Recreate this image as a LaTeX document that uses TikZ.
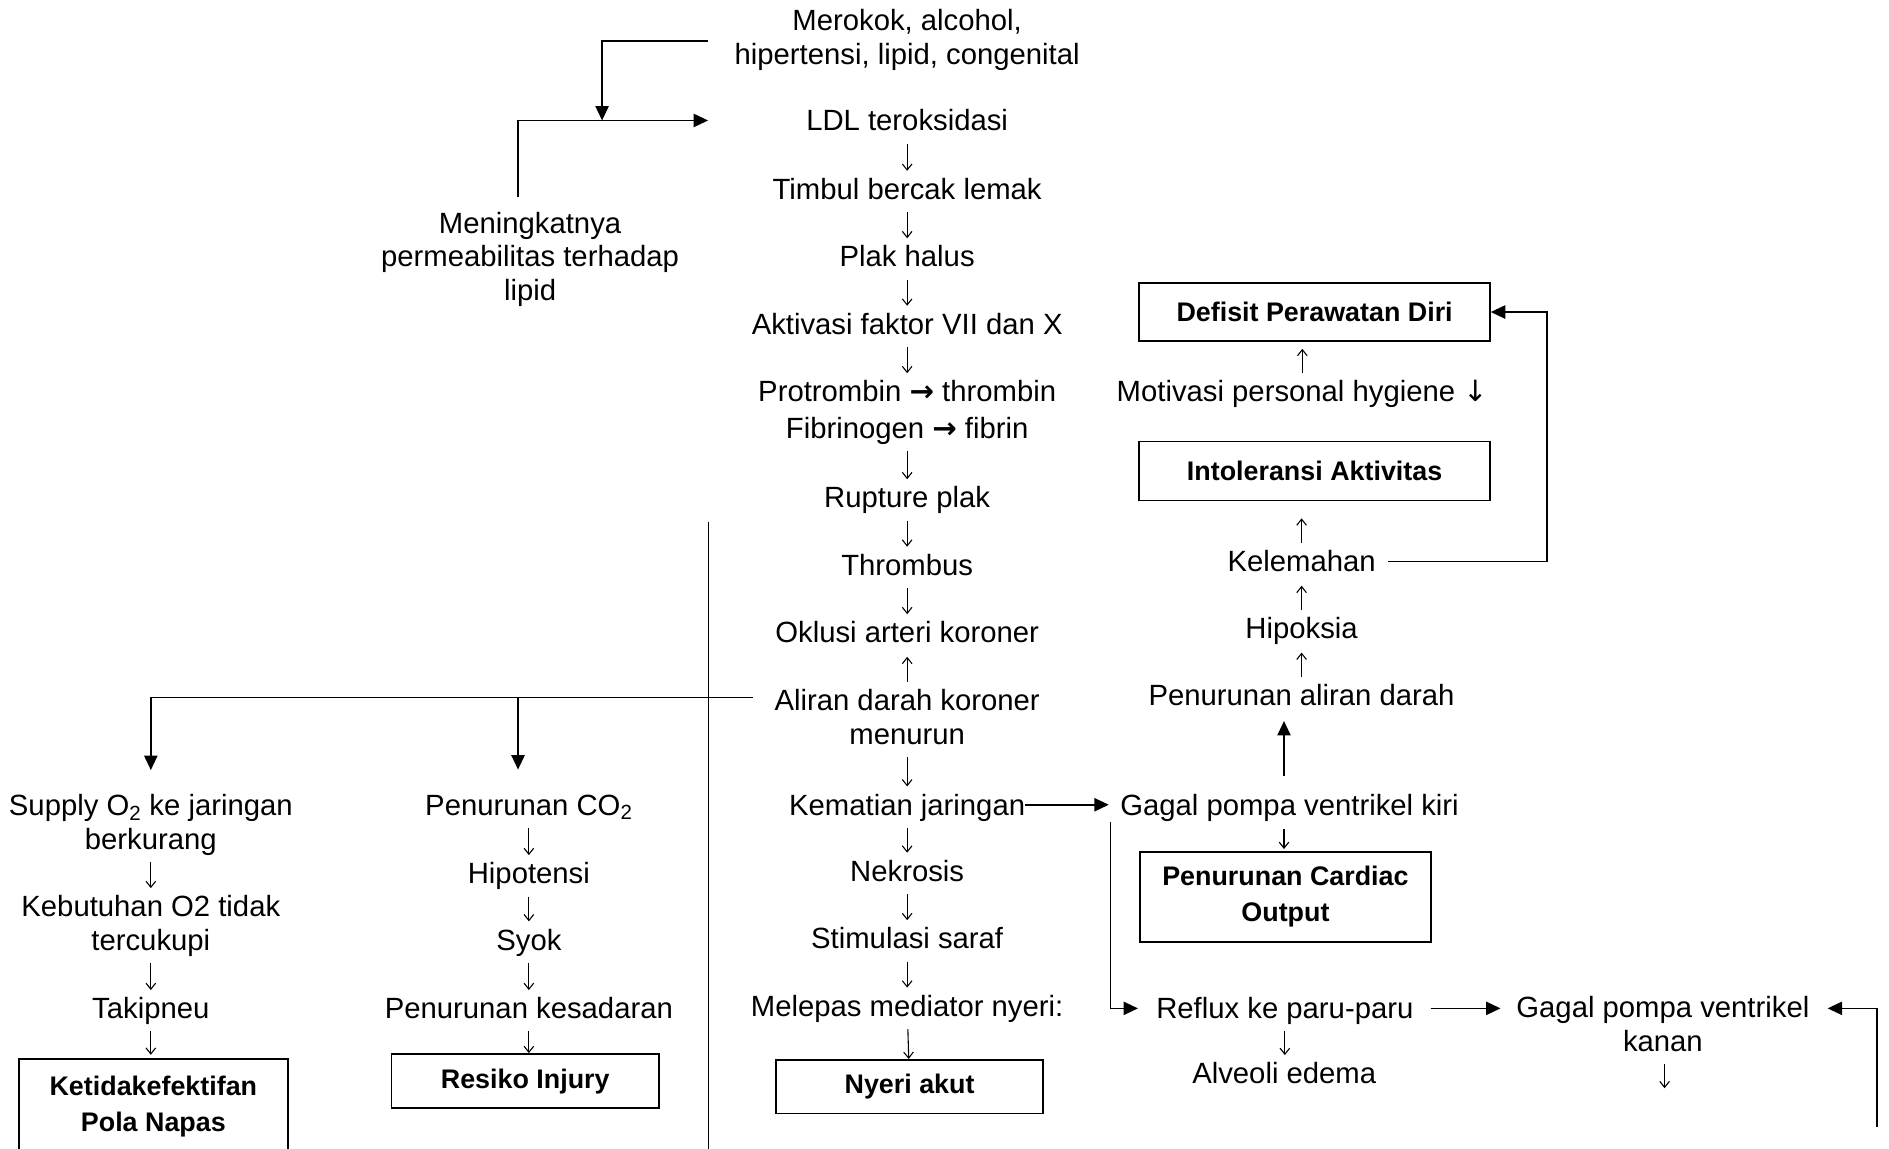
\documentclass[tikz,border=0pt]{standalone}
\usepackage{fontspec}
\setmainfont{Liberation Sans}
\newfontfamily\arrowfont{DejaVu Sans}
\usetikzlibrary{arrows.meta}
\newcommand\nrmfs{\fontsize{24.3pt}{28pt}\selectfont}
\newcommand\bxfs{\fontsize{22.3pt}{30pt}\selectfont\bfseries}
\newcommand\mystrut{\rule[-5.4pt]{0pt}{28pt}}
\begin{document}
\begin{tikzpicture}[x=1pt,y=-1pt,
  txt/.style={inner sep=0pt, font=\nrmfs, text height=22.6pt, text depth=5.4pt},
  mtxt/.style={inner sep=0pt, font=\nrmfs, align=center},
  dxbox/.style={draw, line width=1.5pt, inner sep=0pt, font=\bxfs, align=center},
  flow/.style={line width=0.9pt, -{Straight Barb[length=5pt,width=8pt]}},
  dn/.style={flow, shorten <=5pt, shorten >=1pt},
  upa/.style={flow, shorten <=1pt, shorten >=6pt},
  conn/.style={line width=1.4pt},
  tri/.style={-{Triangle[length=12pt,width=11pt]}},
]
\useasboundingbox (0,0) rectangle (1568,953);
\clip (0,0) rectangle (1568,953);

% main column
\node[mtxt] (merokok) at (753,31) {\mystrut Merokok, alcohol,\\\mystrut hipertensi, lipid, congenital};
\node[txt] (ldl) at (753,100) {LDL teroksidasi};
\node[txt] (timbul) at (753,157) {Timbul bercak lemak};
\node[txt] (plak) at (753,213) {Plak halus};
\node[txt] (aktivasi) at (753,269) {Aktivasi faktor VII dan X};
\node[mtxt, font=\fontsize{24.3pt}{30pt}\selectfont] (protrombin) at (753,340) {\mystrut Protrombin {\arrowfont\bfseries →} thrombin\\\mystrut Fibrinogen {\arrowfont\bfseries →} fibrin};
\node[txt] (rupture) at (753,413) {Rupture plak};
\node[txt] (thrombus) at (753,469) {Thrombus};
\node[txt] (oklusi) at (753,525) {Oklusi arteri koroner};
\node[mtxt] (aliran) at (753,595) {\mystrut Aliran darah koroner\\\mystrut menurun};
\node[txt] (kematian) at (753,668) {Kematian jaringan};
\node[txt] (nekrosis) at (753,723) {Nekrosis};
\node[txt] (stimulasi) at (753,779) {Stimulasi saraf};
\node[txt] (melepas) at (753,835) {Melepas mediator nyeri:};
\node[dxbox, minimum width=222pt, minimum height=44.5pt] (nyeri) at (755,902) {Nyeri akut};

% left top
\node[mtxt] (mening) at (440,213) {\mystrut Meningkatnya\\\mystrut permeabilitas terhadap\\\mystrut lipid};

% right column
\node[dxbox, minimum width=291pt, minimum height=47.6pt] (defisit) at (1091.2,259) {Defisit Perawatan Diri};
\node[txt] (motivasi) at (1081,325) {Motivasi personal hygiene {\arrowfont ↓}};
\node[dxbox, minimum width=291pt, minimum height=49pt] (intol) at (1091.2,391) {Intoleransi Aktivitas};
\node[txt] (kelemahan) at (1080.4,466) {Kelemahan};
\node[txt] (hipoksia) at (1080.4,521.5) {Hipoksia};
\node[txt] (paliran) at (1080.4,577) {Penurunan aliran darah};
\node[txt] (gagalkiri) at (1070.4,668) {Gagal pompa ventrikel kiri};
\node[dxbox, minimum width=242pt, minimum height=75pt] (pco) at (1067,744.5) {Penurunan Cardiac\\Output};
\node[txt] (reflux) at (1066.5,837) {Reflux ke paru-paru};
\node[txt] (alveoli) at (1066,891) {Alveoli edema};
\node[mtxt] (gagalkanan) at (1380.3,850) {\mystrut Gagal pompa ventrikel\\\mystrut kanan};

% left bottom
\node[mtxt] (supply) at (125.2,682.4) {\mystrut Supply O\textsubscript{2} ke jaringan\\\mystrut berkurang};
\node[mtxt] (kebutuhan) at (125.2,766.4) {\mystrut Kebutuhan O2 tidak\\\mystrut tercukupi};
\node[txt] (takipneu) at (125.2,837) {Takipneu};
\node[dxbox, minimum width=223.4pt, minimum height=78pt] (ketidak) at (127.3,918.3) {Ketidakefektifan\\Pola Napas};
\node[txt] (penco) at (439,668) {Penurunan CO\textsubscript{2}};
\node[txt] (hipotensi) at (439,725) {Hipotensi};
\node[txt] (syok) at (439,780) {Syok};
\node[txt] (kesadaran) at (439,837) {Penurunan kesadaran};
\node[dxbox, minimum width=222pt, minimum height=45pt] (resiko) at (436,897.4) {Resiko Injury};

% main column small arrows
\draw[dn] (ldl) -- (timbul);
\draw[dn] (timbul) -- (plak);
\draw[dn] (plak) -- (aktivasi);
\draw[dn] (aktivasi) -- (protrombin);
\draw[dn] (protrombin) -- (rupture);
\draw[dn] (rupture) -- (thrombus);
\draw[dn] (thrombus) -- (oklusi);
\draw[upa] (aliran) -- (oklusi);
\draw[dn] (aliran) -- (kematian);
\draw[dn] (kematian) -- (nekrosis);
\draw[dn] (nekrosis) -- (stimulasi);
\draw[dn] (stimulasi) -- (melepas);
\draw[dn, shorten >=0pt] (melepas) -- (nyeri);

% left bottom small arrows
\draw[dn] (supply) -- (kebutuhan);
\draw[dn] (kebutuhan) -- (takipneu);
\draw[dn, shorten >=3pt] (takipneu) -- (ketidak.north -| takipneu);
\draw[dn] (penco) -- (hipotensi);
\draw[dn] (hipotensi) -- (syok);
\draw[dn] (syok) -- (kesadaran);
\draw[dn, shorten >=0pt] (kesadaran) -- (kesadaran |- resiko.north);

% right small arrows
\draw[upa] (motivasi.north) -- (motivasi.north |- defisit.south);
\draw[upa, shorten >=14pt] (kelemahan) -- (kelemahan |- intol.south);
\draw[upa] (hipoksia) -- (kelemahan);
\draw[upa] (paliran) -- (hipoksia);
\coordinate (gk2) at ([xshift=-4.6pt]gagalkiri.south);
\draw[flow, shorten <=6pt, shorten >=1.5pt] (gk2) -- (gk2 |- pco.north);
\draw[dn] (reflux.south) -- (reflux.south |- alveoli.north);
\coordinate (kd) at (1381.7,903.3);
\draw[flow, shorten <=5pt] (gagalkanan.south -| kd) -- (kd);

% thick connectors, top left
\coordinate (m0) at ([xshift=-22pt,yshift=-3pt]merokok.west);
\path (ldl.west) ++(-169.3,0) coordinate (j);
\draw[conn,tri] (m0) -| (j);
\coordinate (mn) at ([xshift=-10pt,yshift=7pt]mening.north);
\draw[conn,tri,shorten >=81.3pt] (mn) |- (ldl.west);

% divider
\coordinate (vt) at (588,433);
\coordinate (vb) at (588,960);
\draw[line width=1.1pt] (vt) -- (vb);

% branches from Aliran
\coordinate (a0) at ([xshift=-18pt,yshift=16pt]aliran.west);
\draw[conn,tri,shorten >=15pt] (a0) -| (supply.north);
\coordinate (p0) at ([xshift=-9pt]penco.north);
\draw[conn,tri,shorten >=15pt] (p0 |- a0) -- (p0);

% right thick connectors
\draw[conn,tri,shorten >=9.4pt] (kematian) -- (gagalkiri);
\coordinate (gk1) at ([xshift=-4.6pt]gagalkiri.north);
\draw[conn,tri,shorten <=10pt,shorten >=7.3pt] (gk1) -- (gk1 |- paliran.south);
\draw[conn,tri,shorten >=15pt] ([xshift=-8pt]gagalkiri.south west) |- (reflux.west);
\draw[conn,tri,shorten <=14pt,shorten >=13pt] (reflux.east) -- (reflux.east -| gagalkanan.west);
\coordinate (rb) at (1557.9,935.2);
\draw[conn,tri,shorten >=15pt] (rb) |- (reflux.east -| gagalkanan.east);
\draw[conn,tri] ([xshift=10pt]kelemahan.east) -- ++(132,0) |- (defisit.east);
\end{tikzpicture}
\end{document}
